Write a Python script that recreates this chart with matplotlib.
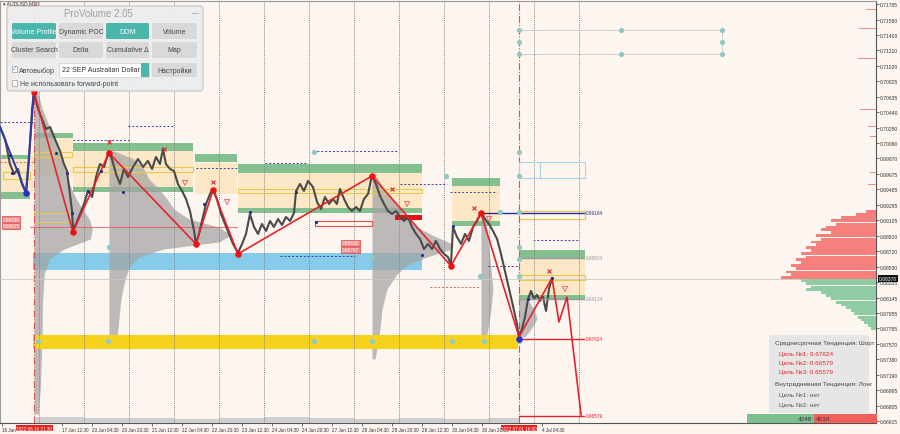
import numpy as np
import matplotlib.pyplot as plt
from matplotlib.patches import FancyBboxPatch, Rectangle
from matplotlib.transforms import blended_transform_factory

plt.rcParams['font.family'] = ['Liberation Sans', 'DejaVu Sans']

BG = '#FDF5F0'

# ====================== Axes ranges (trading hours since 16 Jun 00:00 / price) ======================
x_min, x_max = 3.2, 470.4
y_min, y_max = 0.66590, 0.71828

price_ticks = [0.71785, 0.71590, 0.71400, 0.71210, 0.71020, 0.70825, 0.70635, 0.70440,
               0.70250, 0.70060, 0.69870, 0.69675, 0.69485, 0.69295, 0.69105, 0.68910,
               0.68720, 0.68530, 0.68335, 0.68145, 0.67955, 0.67765, 0.67570, 0.67380,
               0.67190, 0.66995, 0.66805, 0.66615]

time_ticks = [4.5, 36.5, 52.5, 68.5, 84.5, 100.5, 116.5, 132.5, 148.5, 164.5, 180.5,
              196.5, 212.5, 228.5, 244.5, 260.5, 292.5]
time_labels = ["16 Jun", "17 Jun 12:30", "20 Jun 04:30", "20 Jun 20:30", "21 Jun 12:30",
               "22 Jun 04:30", "22 Jun 20:30", "23 Jun 12:30", "24 Jun 04:30", "24 Jun 20:30",
               "27 Jun 12:30", "28 Jun 04:30", "28 Jun 20:30", "29 Jun 12:30", "30 Jun 04:30",
               "30 Jun 20:30", "4 Jul 04:30"]
day_sep = [24, 48, 72, 96, 120, 144, 168, 192, 216, 240, 264, 288, 312]
mark_h = [21.5, 280.0]
mark_lbl = ["2022.06.16 21:30", "2022.07.01 16:00"]

# ====================== Price path ======================
price_h = [3.2, 5.9, 8.5, 10.7, 12.8, 14.9, 17.1, 18.7, 20.3, 21.3, 23.5, 25.6, 27.7, 29.9,
           32.5, 35.2, 37.3, 38.9, 40.5, 41.6, 42.1, 43.7, 45.9, 48.0, 50.1, 52.3, 54.4, 56.5,
           58.7, 61.3, 62.9, 65.1, 67.2, 69.3, 71.5, 74.1, 76.8, 79.5, 82.1, 84.3, 86.4, 88.5,
           90.1, 91.7, 93.9, 96.0, 98.1, 100.3, 102.4, 104.5, 106.7, 107.7, 109.3, 110.9, 113.1,
           115.2, 116.8, 118.9, 121.1, 123.2, 125.3, 127.5, 130.1, 132.3, 134.4, 136.5, 138.7,
           140.8, 142.9, 145.1, 147.2, 149.3, 151.5, 153.6, 155.7, 157.9, 160.0, 161.1, 163.2,
           165.3, 167.5, 170.1, 172.3, 174.4, 176.5, 178.7, 180.8, 182.9, 184.5, 186.7, 188.8,
           190.9, 193.1, 195.2, 197.3, 199.5, 201.6, 203.7, 205.9, 208.0, 210.1, 212.3, 214.4,
           216.5, 218.7, 220.8, 222.9, 225.1, 227.2, 229.3, 231.5, 233.6, 235.7, 237.9, 240.0,
           242.1, 243.7, 244.8, 246.9, 249.1, 251.2, 253.3, 255.5, 257.6, 259.7, 261.9, 264.0,
           266.1, 268.3, 270.4, 272.5, 274.7, 276.8, 278.9, 280.0, 281.6, 283.2, 284.8, 286.4,
           288.0, 289.6, 291.2, 292.8, 294.4, 296.0, 297.6]
price_p = [0.70260, 0.70111, 0.69801, 0.69677, 0.69739, 0.69553, 0.69442, 0.69863, 0.70483,
           0.70694, 0.70483, 0.70359, 0.70235, 0.70260, 0.70111, 0.69962, 0.69801, 0.69715,
           0.69429, 0.69219, 0.68995, 0.69057, 0.69181, 0.69305, 0.69467, 0.69392, 0.69640,
           0.69801, 0.69764, 0.69963, 0.69863, 0.69677, 0.69553, 0.69739, 0.69640, 0.69764,
           0.69863, 0.69764, 0.69839, 0.69739, 0.69888, 0.69801, 0.69987, 0.69801, 0.69739,
           0.69715, 0.69553, 0.69467, 0.69367, 0.69219, 0.68971, 0.68810, 0.68934, 0.69095,
           0.69306, 0.69429, 0.69491, 0.69367, 0.69181, 0.69057, 0.68934, 0.68810, 0.68698,
           0.68810, 0.68934, 0.69181, 0.69020, 0.68934, 0.69057, 0.68971, 0.69095, 0.69020,
           0.69119, 0.69045, 0.69144, 0.69095, 0.69194, 0.69467, 0.69553, 0.69467, 0.69591,
           0.69516, 0.69330, 0.69243, 0.69392, 0.69306, 0.69367, 0.69306, 0.69491, 0.69367,
           0.69268, 0.69219, 0.69268, 0.69219, 0.69367, 0.69429, 0.69665, 0.69553, 0.69405,
           0.69306, 0.69219, 0.69181, 0.69219, 0.69144, 0.69095, 0.69144, 0.69020, 0.68934,
           0.68872, 0.68748, 0.68810, 0.68748, 0.68847, 0.68748, 0.68686, 0.68648, 0.68549,
           0.69020, 0.68896, 0.68810, 0.68934, 0.68847, 0.69020, 0.69095, 0.69194, 0.69119,
           0.69057, 0.68971, 0.68872, 0.68686, 0.68475, 0.68252, 0.68041, 0.67818, 0.67657,
           0.67756, 0.67905, 0.68128, 0.68227, 0.68128, 0.68178, 0.68103, 0.68153, 0.67979,
           0.68252, 0.68388]

# zigzag (red) and its projection
zz_h = [21.3, 42.1, 61.3, 107.7, 116.8, 130.1, 201.6, 243.7, 259.7, 280.0, 297.6]
zz_p = [0.70694, 0.68958, 0.69938, 0.68810, 0.69479, 0.68686, 0.69653, 0.68537, 0.69194,
        0.67657, 0.68388]
proj_h = [297.6, 301.3, 305.6, 313.1]
proj_p = [0.68388, 0.67842, 0.68152, 0.66690]
blue_zz_h = [3.2, 17.1, 21.3]
blue_zz_p = [0.70260, 0.69442, 0.70694]

navy_dot_h = [8.5, 9.6, 33.1, 38.9, 41.6, 50.1, 57.1, 68.8, 112.0, 136.5, 161.1, 171.7,
              228.3, 244.8, 284.8, 297.6]
navy_dot_p = [0.69913, 0.69690, 0.69938, 0.69690, 0.69194, 0.69467, 0.69715, 0.69454,
              0.69306, 0.69206, 0.69454, 0.69082, 0.68673, 0.69033, 0.68128, 0.68388]
big_navy_h = [17.1, 280.0]
big_navy_p = [0.69442, 0.67632]

cross_h = [61.3, 90.7, 116.8, 212.3, 256.0, 296.0]
cross_p = [0.70074, 0.69987, 0.69578, 0.69491, 0.69250, 0.68475]
arrow_h = [101.9, 124.3, 220.3, 264.0, 304.5]
arrow_p = [0.69566, 0.69330, 0.69305, 0.69119, 0.68252]

# ====================== Zones ======================
beige_x0 = [3.2, 21.5, 42.1, 107.2, 130.1, 244.3, 280.0]
beige_x1 = [20.8, 42.1, 106.1, 129.6, 228.3, 269.9, 315.2]
beige_top = [0.69901, 0.70136, 0.69963, 0.69814, 0.69702, 0.69529, 0.68624]
beige_bot = [0.69429, 0.69640, 0.69516, 0.69429, 0.69243, 0.69082, 0.68165]

green_x0 = [3.2, 3.2, 21.9, 42.1, 42.1, 107.2, 130.1, 130.1, 244.3, 244.3, 280.0, 280.0]
green_x1 = [19.2, 19.2, 42.1, 106.1, 106.1, 129.6, 228.3, 228.3, 269.9, 269.9, 315.2, 315.2]
green_top = [0.69913, 0.69454, 0.70186, 0.70062, 0.69516, 0.69925, 0.69801, 0.69256,
             0.69628, 0.69095, 0.68735, 0.68177]
green_bot = [0.69863, 0.69367, 0.70124, 0.69963, 0.69454, 0.69826, 0.69690, 0.69194,
             0.69529, 0.69033, 0.68624, 0.68115]

blue_band = (20.8, 228.3, 0.68487, 0.68698)
gold_band = (20.8, 279.5, 0.67508, 0.67681)

yel_x0 = [4.8, 21.3, 21.3, 42.1, 130.1, 280.0, 280.0]
yel_x1 = [19.2, 41.6, 41.6, 106.1, 228.3, 315.2, 315.2]
yel_top = [0.69702, 0.69950, 0.69194, 0.69764, 0.69491, 0.69219, 0.68425]
yel_bot = [0.69615, 0.69888, 0.69082, 0.69702, 0.69442, 0.69119, 0.68363]

navy_dot_lines = [(3.2, 20.8, 0.70322), (42.1, 72.5, 0.70099), (71.5, 95.5, 0.70273),
                  (107.7, 129.6, 0.69752), (144.5, 167.5, 0.69814), (170.1, 215.5, 0.69963),
                  (216.5, 241.6, 0.69553), (243.2, 268.3, 0.69454), (263.5, 278.9, 0.68537),
                  (287.5, 311.5, 0.68859), (152.5, 192.5, 0.68661)]
red_dash_lines = [(232.5, 259.2, 0.68276), (3.2, 20.8, 0.69826)]

teal_h = [280.0, 334.4, 388.3, 280.0, 388.3, 280.0, 334.4, 388.3, 280.0, 280.0, 269.9, 280.0,
          280.0, 280.0, 280.0, 259.2, 170.7, 241.1, 61.3, 201.6,
          23.5, 60.8, 170.7, 201.6, 244.3, 261.3, 280.0]
teal_p = [0.71463, 0.71463, 0.71463, 0.71314, 0.71314, 0.71165, 0.71165, 0.71165, 0.69950,
          0.69653, 0.69206, 0.69206, 0.68773, 0.68624, 0.68413, 0.68413, 0.69950, 0.69653,
          0.68773, 0.68648,
          0.67607, 0.67607, 0.67607, 0.67607, 0.67607, 0.67607, 0.67607]

# target levels
tgt_p = [0.69194, 0.68636, 0.68128, 0.67632, 0.66677]
tgt_x0 = [259.7, 280.0, 280.0, 280.0, 280.0]
tgt_lbl = ["0.69184", "0.68624", "0.68124", "0.67624", "0.66579"]
tgt_col = ['#2B2F8F', '#9A9A9A', '#9A9A9A', '#E5232B', '#E5232B']

# ====================== Volume profiles (start hour, price rows, volume) ======================
prof_start = [21.5, 61.3, 201.6, 259.7, 280.0]
prof_p = [
    [0.70669, 0.70483, 0.70297, 0.70111, 0.69925, 0.69739, 0.69553, 0.69367, 0.69243, 0.69119,
     0.68995, 0.68871, 0.68748, 0.68624, 0.68438, 0.68252, 0.68004, 0.67756, 0.67384, 0.67012, 0.66702],
    [0.69963, 0.69863, 0.69739, 0.69615, 0.69491, 0.69367, 0.69243, 0.69119, 0.69020, 0.68921,
     0.68834, 0.68748, 0.68648, 0.68524, 0.68314, 0.68128, 0.67880, 0.67632],
    [0.69640, 0.69491, 0.69367, 0.69243, 0.69119, 0.69020, 0.68921, 0.68822, 0.68748, 0.68648,
     0.68549, 0.68438, 0.68252, 0.68004, 0.67756, 0.67508, 0.67384],
    [0.69194, 0.68995, 0.68748, 0.68500, 0.68252, 0.68004, 0.67756, 0.67570],
    [0.68128, 0.68004, 0.67880, 0.67756, 0.67657],
]
prof_v = [
    [4, 8, 14, 20, 25, 30, 35, 42, 48, 55, 58, 56, 30, 15, 10, 9, 8, 8, 7, 6, 4],
    [5, 25, 35, 40, 50, 58, 65, 80, 110, 122, 110, 55, 30, 20, 15, 12, 10, 8],
    [5, 12, 20, 28, 35, 45, 60, 78, 80, 55, 35, 25, 15, 10, 8, 5, 3],
    [3, 6, 8, 10, 12, 10, 7, 4],
    [8, 15, 18, 12, 6],
]
prof_scale = 1 / 1.875

# bottom volume strip
vol_edges = [21.5, 48, 72, 96, 120, 144, 168, 192, 216, 240, 264, 280]
vol_vals = [6, 5, 5, 4, 5, 6, 5, 4, 5, 4, 5]

# ====================== DOM ======================
dom_red_p = [0.69206, 0.69169, 0.69132, 0.69095, 0.69057, 0.69020, 0.68983, 0.68946, 0.68909,
             0.68871, 0.68834, 0.68797, 0.68760, 0.68723, 0.68686, 0.68648, 0.68611, 0.68574,
             0.68537, 0.68500, 0.68462, 0.68425, 0.68388]
dom_red_v = [10, 20, 35, 45, 40, 50, 55, 45, 60, 55, 65, 60, 70, 65, 75, 70, 80, 75, 85, 80, 90, 85, 95]
dom_grn_p = [0.68351, 0.68314, 0.68276, 0.68239, 0.68202, 0.68165, 0.68128, 0.68090, 0.68053,
             0.68016, 0.67979, 0.67942, 0.67904, 0.67867, 0.67830, 0.67793, 0.67756]
dom_grn_v = [75, 70, 65, 70, 55, 50, 45, 40, 35, 30, 25, 22, 18, 15, 12, 8, 5]
dom_hi_p = [0.71711, 0.71475, 0.71103, 0.70954, 0.70830, 0.70471, 0.70260, 0.70136, 0.69987,
            0.69863, 0.69690, 0.69541, 0.69367, 0.69305]
dom_hi_v = [10, 17, 18, 12, 16, 16, 8, 6, 23, 14, 6, 8, 12, 10]
dom_scale = 1 / 1.875

last_price = 0.68378
buy_vol, sell_vol = 4248, 4016

# ====================== Figure ======================
fig = plt.figure(figsize=(9, 4.35), dpi=100)
fig.patch.set_facecolor(BG)
ax = fig.add_axes([0, 11 / 435, 876 / 900, 422.5 / 435])
ax.set_facecolor(BG)
ax.set_xlim(x_min, x_max)
ax.set_ylim(y_min, y_max)

for x0, x1, lo, hi in zip(beige_x0, beige_x1, beige_bot, beige_top):
    ax.add_patch(Rectangle((x0, lo), x1 - x0, hi - lo, color='#FCE8C6', lw=0, zorder=1))
for x0, x1, lo, hi in zip(green_x0, green_x1, green_bot, green_top):
    ax.add_patch(Rectangle((x0, lo), x1 - x0, hi - lo, color='#84BF8F', lw=0, zorder=2))
b = blue_band
ax.add_patch(Rectangle((b[0], b[2]), b[1] - b[0], b[3] - b[2], color='#86CBEA', lw=0, zorder=2))

for s, pp, vv in zip(prof_start, prof_p, prof_v):
    ax.fill_betweenx(pp, s, s + np.array(vv) * prof_scale,
                     color='#A3A3A3', alpha=0.72, lw=0, zorder=3)

g = gold_band
ax.add_patch(Rectangle((g[0], g[2]), g[1] - g[0], g[3] - g[2], color='#F7D21C', lw=0, zorder=3.5))

vol_base = np.array(vol_vals) * 0.000124
ax.stairs(y_min + vol_base, vol_edges, baseline=y_min, fill=True, color='#CFCFCF', zorder=3)

for x0, x1, lo, hi in zip(yel_x0, yel_x1, yel_bot, yel_top):
    ax.add_patch(Rectangle((x0, lo), x1 - x0, hi - lo, fill=False, ec='#E8C94A', lw=0.8, zorder=4))

for x0, x1, y in navy_dot_lines:
    ax.plot([x0, x1], [y, y], color='#3A3FA0', lw=0.7, ls=(0, (2, 2)), zorder=4)
for x0, x1, y in red_dash_lines:
    ax.plot([x0, x1], [y, y], color='#E06060', lw=0.7, ls=(0, (2, 2)), zorder=4)
ax.plot([19.2, 129.6], [0.69020, 0.69020], color='#E06060', lw=0.6, zorder=4)
ax.add_patch(Rectangle((171.2, 0.69033), 30.4, 0.00062, fill=False, ec='#E05050', lw=0.8, zorder=4))
ax.add_patch(Rectangle((213.9, 0.69107), 14.4, 0.00062, color='#E81010', lw=0, zorder=4))

# day separators and markers
for d in day_sep:
    ax.axvline(d, color='#8A8A8A', lw=0.7, ls=(0, (1, 1)), zorder=4)
for m in mark_h:
    ax.axvline(m, color='#D9534F', lw=0.8, ls='-.', zorder=4)
ax.axhline(last_price, color='#C8C8C8', lw=0.6, zorder=4)

# top-right link lines
ax.plot([280.0, 388.3, 388.3, 280.0], [0.71463, 0.71463, 0.71165, 0.71165], color='#C8C8C8', lw=0.6, zorder=4)
ax.add_patch(Rectangle((280.0, 0.69628), 11.2, 0.00198, fill=False, ec='#A8D4E6', lw=0.8, zorder=4))
ax.add_patch(Rectangle((291.2, 0.69628), 24.0, 0.00198, fill=False, ec='#A8D4E6', lw=0.8, zorder=4))

# price
ax.plot(price_h, price_p, color='#4A4A4A', lw=1.5, zorder=5)

# target levels
for p, x0, lbl, c in zip(tgt_p, tgt_x0, tgt_lbl, tgt_col):
    ax.plot([x0, 314.5], [p, p], color=c, lw=1.0, zorder=6)
    ax.text(315.5, p, lbl, fontsize=3.4, color=c, va='center', ha='left', zorder=9)

ax.plot(blue_zz_h, blue_zz_p, color='#2B3BB0', lw=1.4, zorder=7)
ax.plot(zz_h, zz_p, color='#E5232B', lw=1.2, zorder=7)
ax.plot(proj_h, proj_p, color='#E5232B', lw=1.2, zorder=7)

ax.scatter(teal_h, teal_p, s=14, color='#90C8C2', zorder=8, lw=0)
ax.scatter(navy_dot_h, navy_dot_p, s=5, color='#1F2B8F', zorder=8, lw=0)
ax.scatter(zz_h[:-2], zz_p[:-2], s=22, color='#F01010', zorder=8, lw=0)
ax.scatter(big_navy_h, big_navy_p, s=22, color='#2233CC', zorder=8, lw=0)
ax.scatter(cross_h, cross_p, s=8, marker='x', color='#E5232B', lw=0.8, zorder=8)
ax.scatter(arrow_h, arrow_p, s=14, marker='v', facecolor='none', edgecolor='#E56060', lw=0.6, zorder=8)

# DOM
ax.barh(dom_red_p, np.array(dom_red_v) * dom_scale, left=x_max - np.array(dom_red_v) * dom_scale,
        height=0.00037, color='#F77F7C', lw=0, zorder=6)
ax.barh(dom_grn_p, np.array(dom_grn_v) * dom_scale, left=x_max - np.array(dom_grn_v) * dom_scale,
        height=0.00037, color='#8FCBA3', lw=0, zorder=6)
ax.barh(dom_hi_p, np.array(dom_hi_v) * dom_scale, left=x_max - np.array(dom_hi_v) * dom_scale,
        height=0.00012, color='#F28B88', lw=0, zorder=6)

# axes style
for side in ['left', 'top']:
    ax.spines[side].set_color('#9A9A9A')
    ax.spines[side].set_linewidth(0.8)
for side in ['right', 'bottom']:
    ax.spines[side].set_color('#555555')
    ax.spines[side].set_linewidth(0.8)
ax.yaxis.tick_right()
ax.set_yticks(price_ticks)
ax.set_yticklabels([f"{t:.5f}" for t in price_ticks])
ax.set_xticks(time_ticks)
ax.set_xticklabels(time_labels, ha='left')
ax.tick_params(axis='x', labelsize=3.3, length=2, width=0.5, colors='#333333', pad=1)
ax.tick_params(axis='y', labelsize=3.6, length=2, width=0.5, colors='#333333', pad=1)

trb = blended_transform_factory(ax.transData, ax.transAxes)
for m, lbl in zip(mark_h, mark_lbl):
    ax.text(m, -0.007, lbl, transform=trb, fontsize=3.3, color='white', ha='center', va='top',
            bbox=dict(boxstyle='square,pad=0.1', fc='#E8211D', ec='none'), zorder=10, clip_on=False)
trp = blended_transform_factory(ax.transAxes, ax.transData)
ax.text(1.003, last_price, f"{last_price:.5f}", transform=trp, fontsize=3.6, color='white',
        ha='left', va='center', bbox=dict(boxstyle='square,pad=0.2', fc='#111111', ec='none'),
        zorder=10, clip_on=False)

# red price labels
red_lbl_h = [4.5, 4.5, 185.5, 185.5]
red_lbl_p = [0.69119, 0.69033, 0.68822, 0.68736]
red_lbl_t = ["0.69330", "0.69015", "0.68830", "0.68767"]
for h, p, t in zip(red_lbl_h, red_lbl_p, red_lbl_t):
    ax.text(h, p, t, fontsize=3.4, color='white', ha='left', va='center', zorder=9,
            bbox=dict(boxstyle='square,pad=0.15', fc='#F08A8A', ec='#E04040', lw=0.5))

# ====================== Overlay (UI widgets, pixel layout) ======================
ui = fig.add_axes([0, 0, 1, 1], zorder=20)
ui.set_xlim(0, 900)
ui.set_ylim(435, 0)
ui.axis('off')

ui.text(3, 4, "▾ AUDUSD,M30", fontsize=3.6, color='#333333', va='center', ha='left')
ui.add_patch(FancyBboxPatch((7, 7), 196, 85, boxstyle='round,pad=0,rounding_size=3',
                            fc='#EDEDED', ec='#C2C2C2', lw=0.8, alpha=0.97))
ui.text(98, 14, "ProVolume 2.05", fontsize=7, color='#A0A0A0', ha='center', va='center')
ui.text(195, 14, "—", fontsize=5, color='#888888', ha='center', va='center')

btn_x = [12, 59, 106, 152]
btn_w = [44, 44, 43, 45]
row1 = ["Volume Profile", "Dynamic POC", "DOM", "Volume"]
row2 = ["Cluster Search", "Delta", "Cumulative Δ", "Map"]
row1_on = [True, False, True, False]
for bx, bw, t, on in zip(btn_x, btn_w, row1, row1_on):
    ui.add_patch(FancyBboxPatch((bx, 24), bw, 16, boxstyle='round,pad=0,rounding_size=1.5',
                                fc='#4DB6AC' if on else '#D9D9D9', ec='none'))
    ui.text(bx + bw / 2, 32.5, t, fontsize=5, color='white' if on else '#444444',
            ha='center', va='center')
for bx, bw, t in zip(btn_x, btn_w, row2):
    ui.add_patch(FancyBboxPatch((bx, 43), bw, 16, boxstyle='round,pad=0,rounding_size=1.5',
                                fc='#D9D9D9', ec='none'))
    ui.text(bx + bw / 2, 51, t, fontsize=5, color='#444444', ha='center', va='center')

ui.add_patch(Rectangle((12, 67), 5, 6, fc='white', ec='#9A9A9A', lw=0.5))
ui.text(14.5, 69.5, "✓", fontsize=5, color='#4DB6AC', ha='center', va='center', family='DejaVu Sans')
ui.text(19, 71, "Автовыбор", fontsize=5, color='#444444', va='center')
ui.add_patch(Rectangle((59, 64), 90, 14, fc='white', ec='#CFCFCF', lw=0.5))
ui.add_patch(Rectangle((141, 64), 8, 14, fc='#4DB6AC', ec='none'))
ui.text(62, 71, "22 SEP Australian Dollar", fontsize=5, color='#333333', va='center')
ui.add_patch(FancyBboxPatch((152, 64), 45, 14, boxstyle='round,pad=0,rounding_size=1.5',
                            fc='#D9D9D9', ec='none'))
ui.text(174.5, 71, "Настройки", fontsize=5, color='#444444', ha='center', va='center')
ui.add_patch(Rectangle((12, 81), 5, 6, fc='white', ec='#9A9A9A', lw=0.5))
ui.text(20, 84, "Не использовать forward-point", fontsize=5, color='#444444', va='center')

# info panel
ui.add_patch(FancyBboxPatch((769, 336), 100, 78, boxstyle='round,pad=0,rounding_size=2',
                            fc='#E6E6E6', ec='none', alpha=0.95))
info_lines = ["Среднесрочная Тенденция: Шорт", "Цель №1: 0.67624", "Цель №2: 0.66579",
              "Цель №3: 0.65579", "Внутридневная Тенденция: Лонг", "Цель №1: нет", "Цель №2: нет"]
info_y = [344, 354, 363, 372, 385, 395, 405]
info_x = [775, 779, 779, 779, 775, 779, 779]
info_c = ['#444444', '#E5232B', '#E5232B', '#E5232B', '#444444', '#555555', '#555555']
for t, y, x, c in zip(info_lines, info_y, info_x, info_c):
    ui.text(x, y, t, fontsize=4.6, color=c, va='center', ha='left')

ui.add_patch(Rectangle((747, 415), 67, 9, fc='#7DBF8F', ec='none'))
ui.add_patch(Rectangle((814, 415), 63, 9, fc='#F2605C', ec='none'))
ui.text(812, 419.5, str(buy_vol), fontsize=4.6, color='#333333', ha='right', va='center')
ui.text(816, 419.5, str(sell_vol), fontsize=4.6, color='#333333', ha='left', va='center')

fig.savefig('out.png', dpi=100, facecolor=BG)
